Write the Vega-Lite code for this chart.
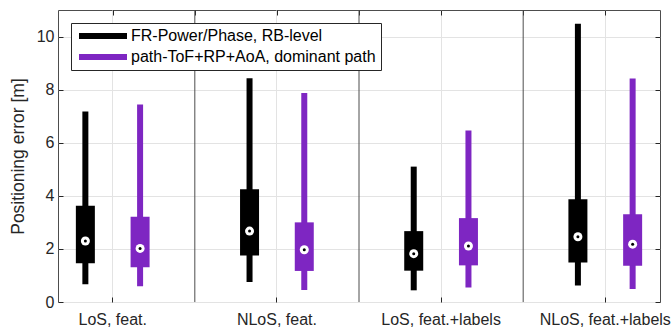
{
  "$schema": "https://vega.github.io/schema/vega-lite/v6.json",
  "width": 602,
  "height": 292,
  "autosize": "none",
  "padding": {"left": 58, "top": 10, "right": 11, "bottom": 25},
  "background": "white",
  "config": {
    "font": "Liberation Sans",
    "view": {"stroke": "#4d4d4d", "strokeWidth": 1},
    "axis": {"labelColor": "#262626", "titleColor": "#262626", "tickColor": "#262626", "gridColor": "#e3e3e3", "gridWidth": 1},
    "legend": {"title": null, "orient": "none", "legendX": 13, "legendY": 13, "padding": 5,
      "strokeColor": "#262626", "fillColor": "white",
      "symbolType": "M-6,-0.75H6V0.75H-6Z", "symbolSize": 64, "symbolStrokeWidth": 0,
      "symbolOffset": 19, "labelOffset": 20,
      "labelFontSize": 16, "labelColor": "#000000", "rowPadding": 5, "labelLimit": 400}
  },
  "datasets": {
    "stats": [
      {"group": "LoS, feat.", "method": "FR-Power/Phase, RB-level", "min": 0.67, "q1": 1.46, "median": 2.30, "q3": 3.63, "max": 7.18},
      {"group": "LoS, feat.", "method": "path-ToF+RP+AoA, dominant path", "min": 0.59, "q1": 1.31, "median": 2.02, "q3": 3.21, "max": 7.44},
      {"group": "NLoS, feat.", "method": "FR-Power/Phase, RB-level", "min": 0.75, "q1": 1.75, "median": 2.67, "q3": 4.25, "max": 8.43},
      {"group": "NLoS, feat.", "method": "path-ToF+RP+AoA, dominant path", "min": 0.45, "q1": 1.17, "median": 1.97, "q3": 3.00, "max": 7.87},
      {"group": "LoS, feat.+labels", "method": "FR-Power/Phase, RB-level", "min": 0.44, "q1": 1.18, "median": 1.82, "q3": 2.67, "max": 5.10},
      {"group": "LoS, feat.+labels", "method": "path-ToF+RP+AoA, dominant path", "min": 0.55, "q1": 1.38, "median": 2.11, "q3": 3.16, "max": 6.46},
      {"group": "NLoS, feat.+labels", "method": "FR-Power/Phase, RB-level", "min": 0.62, "q1": 1.49, "median": 2.46, "q3": 3.87, "max": 10.48},
      {"group": "NLoS, feat.+labels", "method": "path-ToF+RP+AoA, dominant path", "min": 0.49, "q1": 1.37, "median": 2.18, "q3": 3.31, "max": 8.42}
    ],
    "separators": [{"b": 1.5}, {"b": 2.5}, {"b": 3.5}]
  },
  "layer": [
    {
      "data": {"name": "separators"},
      "mark": {"type": "rule", "color": "#4d4d4d", "strokeWidth": 1},
      "encoding": {
        "x": {"field": "b", "type": "quantitative",
          "scale": {"domain": [0.66667, 4.33333], "nice": false, "zero": false},
          "axis": {"orient": "top", "values": [1, 1.5, 2, 2.5, 3, 3.5, 4], "labels": false, "tickSize": -5, "domain": false, "grid": false, "title": null}},
        "y": {"datum": 0, "type": "quantitative",
          "scale": {"domain": [0, 11], "nice": false},
          "axis": {"orient": "right", "values": [0, 2, 4, 6, 8, 10], "labels": false, "tickSize": -5, "domain": false, "grid": false, "title": null}},
        "y2": {"datum": 11}
      }
    },
    {
      "data": {"name": "stats"},
      "encoding": {
        "x": {"field": "group", "type": "nominal",
          "scale": {"type": "band", "domain": ["LoS, feat.", "NLoS, feat.", "LoS, feat.+labels", "NLoS, feat.+labels"], "paddingInner": 0.33333, "paddingOuter": 0},
          "axis": {"orient": "bottom", "title": null, "labelAngle": 0, "labelFontSize": 16, "labelPadding": 14, "tickSize": -5, "domain": false, "grid": true, "bandPosition": 0.5}},
        "xOffset": {"field": "method", "type": "nominal",
          "scale": {"domain": ["FR-Power/Phase, RB-level", "path-ToF+RP+AoA, dominant path"], "paddingInner": 0, "paddingOuter": 0}},
        "color": {"field": "method", "type": "nominal",
          "scale": {"domain": ["FR-Power/Phase, RB-level", "path-ToF+RP+AoA, dominant path"], "range": ["#000000", "#7e26c2"]}}
      },
      "layer": [
        {
          "mark": {"type": "rule", "strokeWidth": 6},
          "encoding": {
            "y": {"field": "min", "type": "quantitative",
              "scale": {"domain": [0, 11], "nice": false},
              "axis": {"orient": "left", "values": [0, 2, 4, 6, 8, 10], "title": "Positioning error [m]", "titleFontSize": 17.5, "titleFontWeight": "normal", "titlePadding": 9, "labelFontSize": 16, "labelPadding": 9, "tickSize": -5, "domain": false, "grid": true}},
            "y2": {"field": "max"}
          }
        },
        {
          "mark": {"type": "bar", "size": 19},
          "encoding": {
            "y": {"field": "q1", "type": "quantitative"},
            "y2": {"field": "q3"}
          }
        },
        {
          "mark": {"type": "point", "shape": "circle", "filled": true, "size": 81, "opacity": 1},
          "encoding": {"y": {"field": "median", "type": "quantitative"}, "color": {"value": "white"}}
        },
        {
          "mark": {"type": "point", "shape": "circle", "filled": true, "size": 9, "opacity": 1},
          "encoding": {"y": {"field": "median", "type": "quantitative"}, "color": {"value": "black"}}
        }
      ]
    }
  ],
  "resolve": {"scale": {"x": "independent", "y": "independent"}}
}
